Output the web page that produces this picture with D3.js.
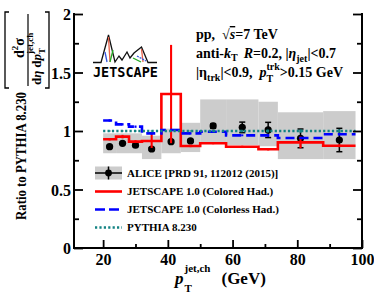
<!DOCTYPE html>
<html><head><meta charset="utf-8">
<script src="https://cdn.jsdelivr.net/npm/d3@7"></script>
<style>
html,body{margin:0;padding:0;background:#fff;}
svg{display:block;}
text{font-family:"Liberation Serif","Times New Roman",serif;font-weight:bold;fill:#000;white-space:pre;}
</style></head>
<body><svg id="c" width="374" height="295"></svg>
<script>
// ---- data ----
const binEdges   = [20,24,28,32,38,44,50,58,68,74,88,98];
const aliceX     = [22,26,30,35,41,47,54,63,71,81,93];
const aliceY     = [0.866,0.895,0.878,0.846,0.909,0.915,1.043,1.031,1.009,0.937,0.923];
const aliceStat  = [0.01,0.01,0.01,0.012,0.012,0.012,0.02,0.045,0.065,0.08,0.1];
const aliceSysLo = [0.81,0.81,0.81,0.76,0.81,0.82,0.90,0.88,0.87,0.76,0.76];
const aliceSysHi = [0.98,0.98,0.98,0.96,1.02,1.07,1.27,1.27,1.25,1.16,1.17];
const coloredY   = [0.929,0.952,0.909,0.915,1.316,0.872,0.895,0.866,0.844,0.903,0.874];
const coloredErr = [0.01,0.015,0.012,0.06,0.42,0.01,0.008,0.008,0.01,0.05,0.012];
const colorlessY = [1.09,1.057,1.037,0.98,1.009,0.98,0.994,0.963,0.963,0.94,0.972];
const colorlessErr=[0.01,0.01,0.01,0.01,0.01,0.01,0.008,0.008,0.008,0.008,0.008];
const pythiaY    = [1,1,1,1,1,1,1,1,1,1,1];
const pythiaErr  = [0.005,0.005,0.005,0.005,0.005,0.005,0.008,0.01,0.012,0.015,0.015];
const xTicksMajor = [20,40,60,80,100];
const xTicksMinor = [30,50,70,90];
const yTicksMajor = [0,0.5,1,1.5,2];
const yTicksMinor = [0.25,0.75,1.25,1.75];
const legendLabels = ["ALICE [PRD 91, 112012 (2015)]","JETSCAPE 1.0 (Colored Had.)","JETSCAPE 1.0 (Colorless Had.)","PYTHIA 8.230"];

const svg = d3.select("#c");
const x = d3.scaleLinear().domain([11,100]).range([74,362]);
const y = d3.scaleLinear().domain([0,2]).range([248,14]);
const RED="#ff0000", BLUE="#0000ff", TEAL="#138383", GREY="#cccccc";

// rich text helper
function rich(g, x0, yb, parts, fs){
  let cx = x0;
  parts.forEach(p=>{
    if(p.stack){
      let w=0;
      p.stack.forEach(s=>{
        const t=g.append("text").attr("x",cx).attr("y",yb+s.dy).style("font-size",s.fs+"px").text(s.t);
        if(s.it) t.style("font-style","italic");
        w=Math.max(w,t.node().getComputedTextLength());
      });
      cx+=w+(p.gap||0);
    } else {
      const t=g.append("text").attr("x",cx).attr("y",yb+(p.dy||0)).style("font-size",(p.fs||fs)+"px").text(p.t);
      if(p.it) t.style("font-style","italic");
      if(p.ov) t.style("text-decoration","overline");
      cx+=t.node().getComputedTextLength()+(p.gap||0);
    }
  });
  return cx;
}

// ---- systematic boxes ----
svg.append("g").selectAll("rect").data(aliceX).join("rect")
  .attr("x",(d,i)=>x(binEdges[i])).attr("width",(d,i)=>x(binEdges[i+1])-x(binEdges[i]))
  .attr("y",(d,i)=>y(aliceSysHi[i])).attr("height",(d,i)=>y(aliceSysLo[i])-y(aliceSysHi[i]))
  .attr("fill",GREY);

// ---- ALICE points ----
const ga = svg.append("g");
aliceX.forEach((xv,i)=>{
  const yt=y(aliceY[i]+aliceStat[i]), yb=y(aliceY[i]-aliceStat[i]);
  ga.append("line").attr("x1",x(xv)).attr("x2",x(xv)).attr("y1",yt).attr("y2",yb).attr("stroke","#000").attr("stroke-width",1.5);
  [yt,yb].forEach(yy=>ga.append("line").attr("x1",x(xv)-3).attr("x2",x(xv)+3).attr("y1",yy).attr("y2",yy).attr("stroke","#000").attr("stroke-width",1.5));
  ga.append("circle").attr("cx",x(xv)).attr("cy",y(aliceY[i])).attr("r",3.6).attr("fill","#000");
});

// ---- histogram helper ----
function hist(vals, errs, color, dash, width){
  const g = svg.append("g");
  let d = "";
  vals.forEach((v,i)=>{
    d += (i===0? "M":"L") + x(binEdges[i]) + "," + y(v) + "L" + x(binEdges[i+1]) + "," + y(v);
  });
  g.append("path").attr("d",d).attr("fill","none").attr("stroke",color).attr("stroke-width",width)
    .attr("stroke-dasharray",dash||null);
  vals.forEach((v,i)=>{
    const xc = x(aliceX[i]);
    g.append("line").attr("x1",xc).attr("x2",xc).attr("y1",y(v+errs[i])).attr("y2",y(v-errs[i]))
      .attr("stroke",color).attr("stroke-width",width*0.8);
  });
}
hist(coloredY, coloredErr, RED, null, 2.6);
hist(colorlessY, colorlessErr, BLUE, "9,5", 2.6);
hist(pythiaY, pythiaErr, TEAL, "2.2,2.2", 2.6);

// ---- axes ----
const ax = svg.append("g");
function axisStyle(g){ g.select(".domain").remove(); g.selectAll(".tick line").attr("stroke","#000").attr("stroke-width",1.8); }
ax.append("g").attr("transform","translate(74,0)").call(d3.axisLeft(y).tickValues(yTicksMajor).tickSize(-9).tickPadding(3).tickFormat(d3.format("")))
  .call(axisStyle).call(g=>g.selectAll("text").style("font-size","16px").attr("font-family",null).attr("dy","0.35em"));
ax.append("g").attr("transform","translate(74,0)").call(d3.axisLeft(y).tickValues(yTicksMinor).tickSize(-5).tickFormat("")).call(axisStyle);
ax.append("g").attr("transform","translate(362,0)").call(d3.axisRight(y).tickValues(yTicksMajor).tickSize(-9).tickFormat("")).call(axisStyle);
ax.append("g").attr("transform","translate(362,0)").call(d3.axisRight(y).tickValues(yTicksMinor).tickSize(-5).tickFormat("")).call(axisStyle);
ax.append("g").attr("transform","translate(0,248)").call(d3.axisBottom(x).tickValues(xTicksMajor).tickSize(-8).tickPadding(6))
  .call(axisStyle).call(g=>g.selectAll("text").style("font-size","16px").attr("font-family",null));
ax.append("g").attr("transform","translate(0,248)").call(d3.axisBottom(x).tickValues(xTicksMinor).tickSize(-4).tickFormat("")).call(axisStyle);
ax.selectAll("text").attr("font-size",null);
ax.append("line").attr("x1",74).attr("x2",74).attr("y1",13).attr("y2",249).attr("stroke","#000").attr("stroke-width",2);
ax.append("line").attr("x1",362).attr("x2",362).attr("y1",13).attr("y2",249).attr("stroke","#000").attr("stroke-width",2);
ax.append("line").attr("x1",73).attr("x2",363).attr("y1",248).attr("y2",248).attr("stroke","#000").attr("stroke-width",2);

// ---- x title ----
const gx = svg.append("g");
rich(gx, 175, 284, [
  {t:"p", it:true, fs:17, gap:1},
  {stack:[{t:"jet,ch",fs:11,dy:-12},{t:"T",fs:11,dy:8}], gap:11},
  {t:"(GeV)", fs:17}
], 16);

// ---- y title ----
svg.append("text").attr("transform","translate(26,156) rotate(-90)").attr("text-anchor","middle")
  .style("font-size","15px").attr("textLength",128).attr("lengthAdjust","spacingAndGlyphs").text("Ratio to PYTHIA 8.230");
// fraction
const gf = svg.append("g").attr("transform","translate(27,50) rotate(-90)");
gf.append("line").attr("x1",-36).attr("x2",36).attr("y1",1).attr("y2",1).attr("stroke","#000").attr("stroke-width",1.2);
// numerator
rich(gf, -8, -3, [{t:"d",fs:14},{t:"2",fs:9,dy:-6},{t:"σ",fs:14}], 14);
// denominator
rich(gf, -35, 14, [
  {t:"d",fs:13},{t:"η",fs:13,it:true,gap:3},{t:"d",fs:13},{t:"p",fs:13,it:true},
  {stack:[{t:"jet,ch",fs:9,dy:-8},{t:"T",fs:9,dy:4}]}
], 13);
// brackets
svg.append("path").attr("d","M9,12 L5,12 L5,88 L9,88").attr("fill","none").attr("stroke","#000").attr("stroke-width",1.3);
svg.append("path").attr("d","M45,12 L49,12 L49,88 L45,88").attr("fill","none").attr("stroke","#000").attr("stroke-width",1.3);

// ---- info text ----
const gi = svg.append("g");
rich(gi, 196, 39, [{t:"pp,  "},{t:"√"},{t:"s",it:true,ov:true},{t:"=7 TeV"}], 14);
rich(gi, 196, 58, [{t:"anti-"},{t:"k",it:true},{t:"T",fs:10,dy:3,gap:6},{t:"R",it:true},{t:"=0.2, |"},{t:"η",it:true},{t:"jet",fs:10,dy:4},{t:"|<0.7"}], 14);
rich(gi, 196, 77, [{t:"|η"},{t:"trk",fs:10,dy:4},{t:"|<0.9,  "},{t:"p",it:true},
  {stack:[{t:"trk",fs:10,dy:-7},{t:"T",fs:10,dy:5}]},{t:">0.15 GeV"}], 14);

// ---- logo ----
const gl = svg.append("g");
gl.append("path").attr("d","M93,62.5 L101,62.5 L108.5,35 L115,62 L119,56 L122,60 L127,52 L130,58 L134,53 L141.5,47 L148,62.5 L157,62.5")
  .attr("fill","none").attr("stroke","#111").attr("stroke-width",1.3);
gl.append("line").attr("x1",108.5).attr("y1",37).attr("x2",110).attr("y2",62).attr("stroke","#e8604a").attr("stroke-width",1.3);
gl.append("line").attr("x1",105).attr("y1",52).attr("x2",107).attr("y2",62).attr("stroke","#3355dd").attr("stroke-width",1.3);
gl.append("line").attr("x1",113).attr("y1",50).attr("x2",110).attr("y2",62).attr("stroke","#22aa22").attr("stroke-width",1.3);
gl.append("line").attr("x1",141.5).attr("y1",49).attr("x2",143).attr("y2",62).attr("stroke","#e8604a").attr("stroke-width",1.3);
gl.append("line").attr("x1",137).attr("y1",56).attr("x2",146).attr("y2",61).attr("stroke","#3355dd").attr("stroke-width",1.3).attr("stroke-dasharray","2,1");
gl.append("line").attr("x1",133).attr("y1",58).attr("x2",141).attr("y2",62).attr("stroke","#22aa22").attr("stroke-width",1.3);
gl.append("text").attr("x",93).attr("y",77).attr("textLength",65).attr("lengthAdjust","spacingAndGlyphs")
  .style("font-family","'DejaVu Sans Mono',monospace").style("font-size","14px").style("font-weight","bold").text("JETSCAPE");

// ---- legend ----
const lg = svg.append("g");
const rowY = [173,191.5,209.5,227.5];
lg.append("rect").attr("x",95).attr("y",166.5).attr("width",27).attr("height",13).attr("fill",GREY);
lg.append("line").attr("x1",95).attr("x2",122).attr("y1",rowY[0]).attr("y2",rowY[0]).attr("stroke","#000").attr("stroke-width",1.5);
lg.append("line").attr("x1",108.5).attr("x2",108.5).attr("y1",rowY[0]-6.5).attr("y2",rowY[0]+6.5).attr("stroke","#000").attr("stroke-width",1.5);
lg.append("circle").attr("cx",108.5).attr("cy",rowY[0]).attr("r",3.4).attr("fill","#000");
lg.append("line").attr("x1",95).attr("x2",122).attr("y1",rowY[1]).attr("y2",rowY[1]).attr("stroke",RED).attr("stroke-width",2.6);
lg.append("line").attr("x1",95).attr("x2",122).attr("y1",rowY[2]).attr("y2",rowY[2]).attr("stroke",BLUE).attr("stroke-width",2.6).attr("stroke-dasharray","10,4");
lg.append("line").attr("x1",95).attr("x2",122).attr("y1",rowY[3]).attr("y2",rowY[3]).attr("stroke",TEAL).attr("stroke-width",2.6).attr("stroke-dasharray","2.2,2.2");
lg.selectAll("text.l").data(legendLabels).join("text").attr("class","l")
  .attr("x",127).attr("y",(d,i)=>rowY[i]).attr("dy","0.35em").style("font-size","11px").text(d=>d);
</script></body></html>
